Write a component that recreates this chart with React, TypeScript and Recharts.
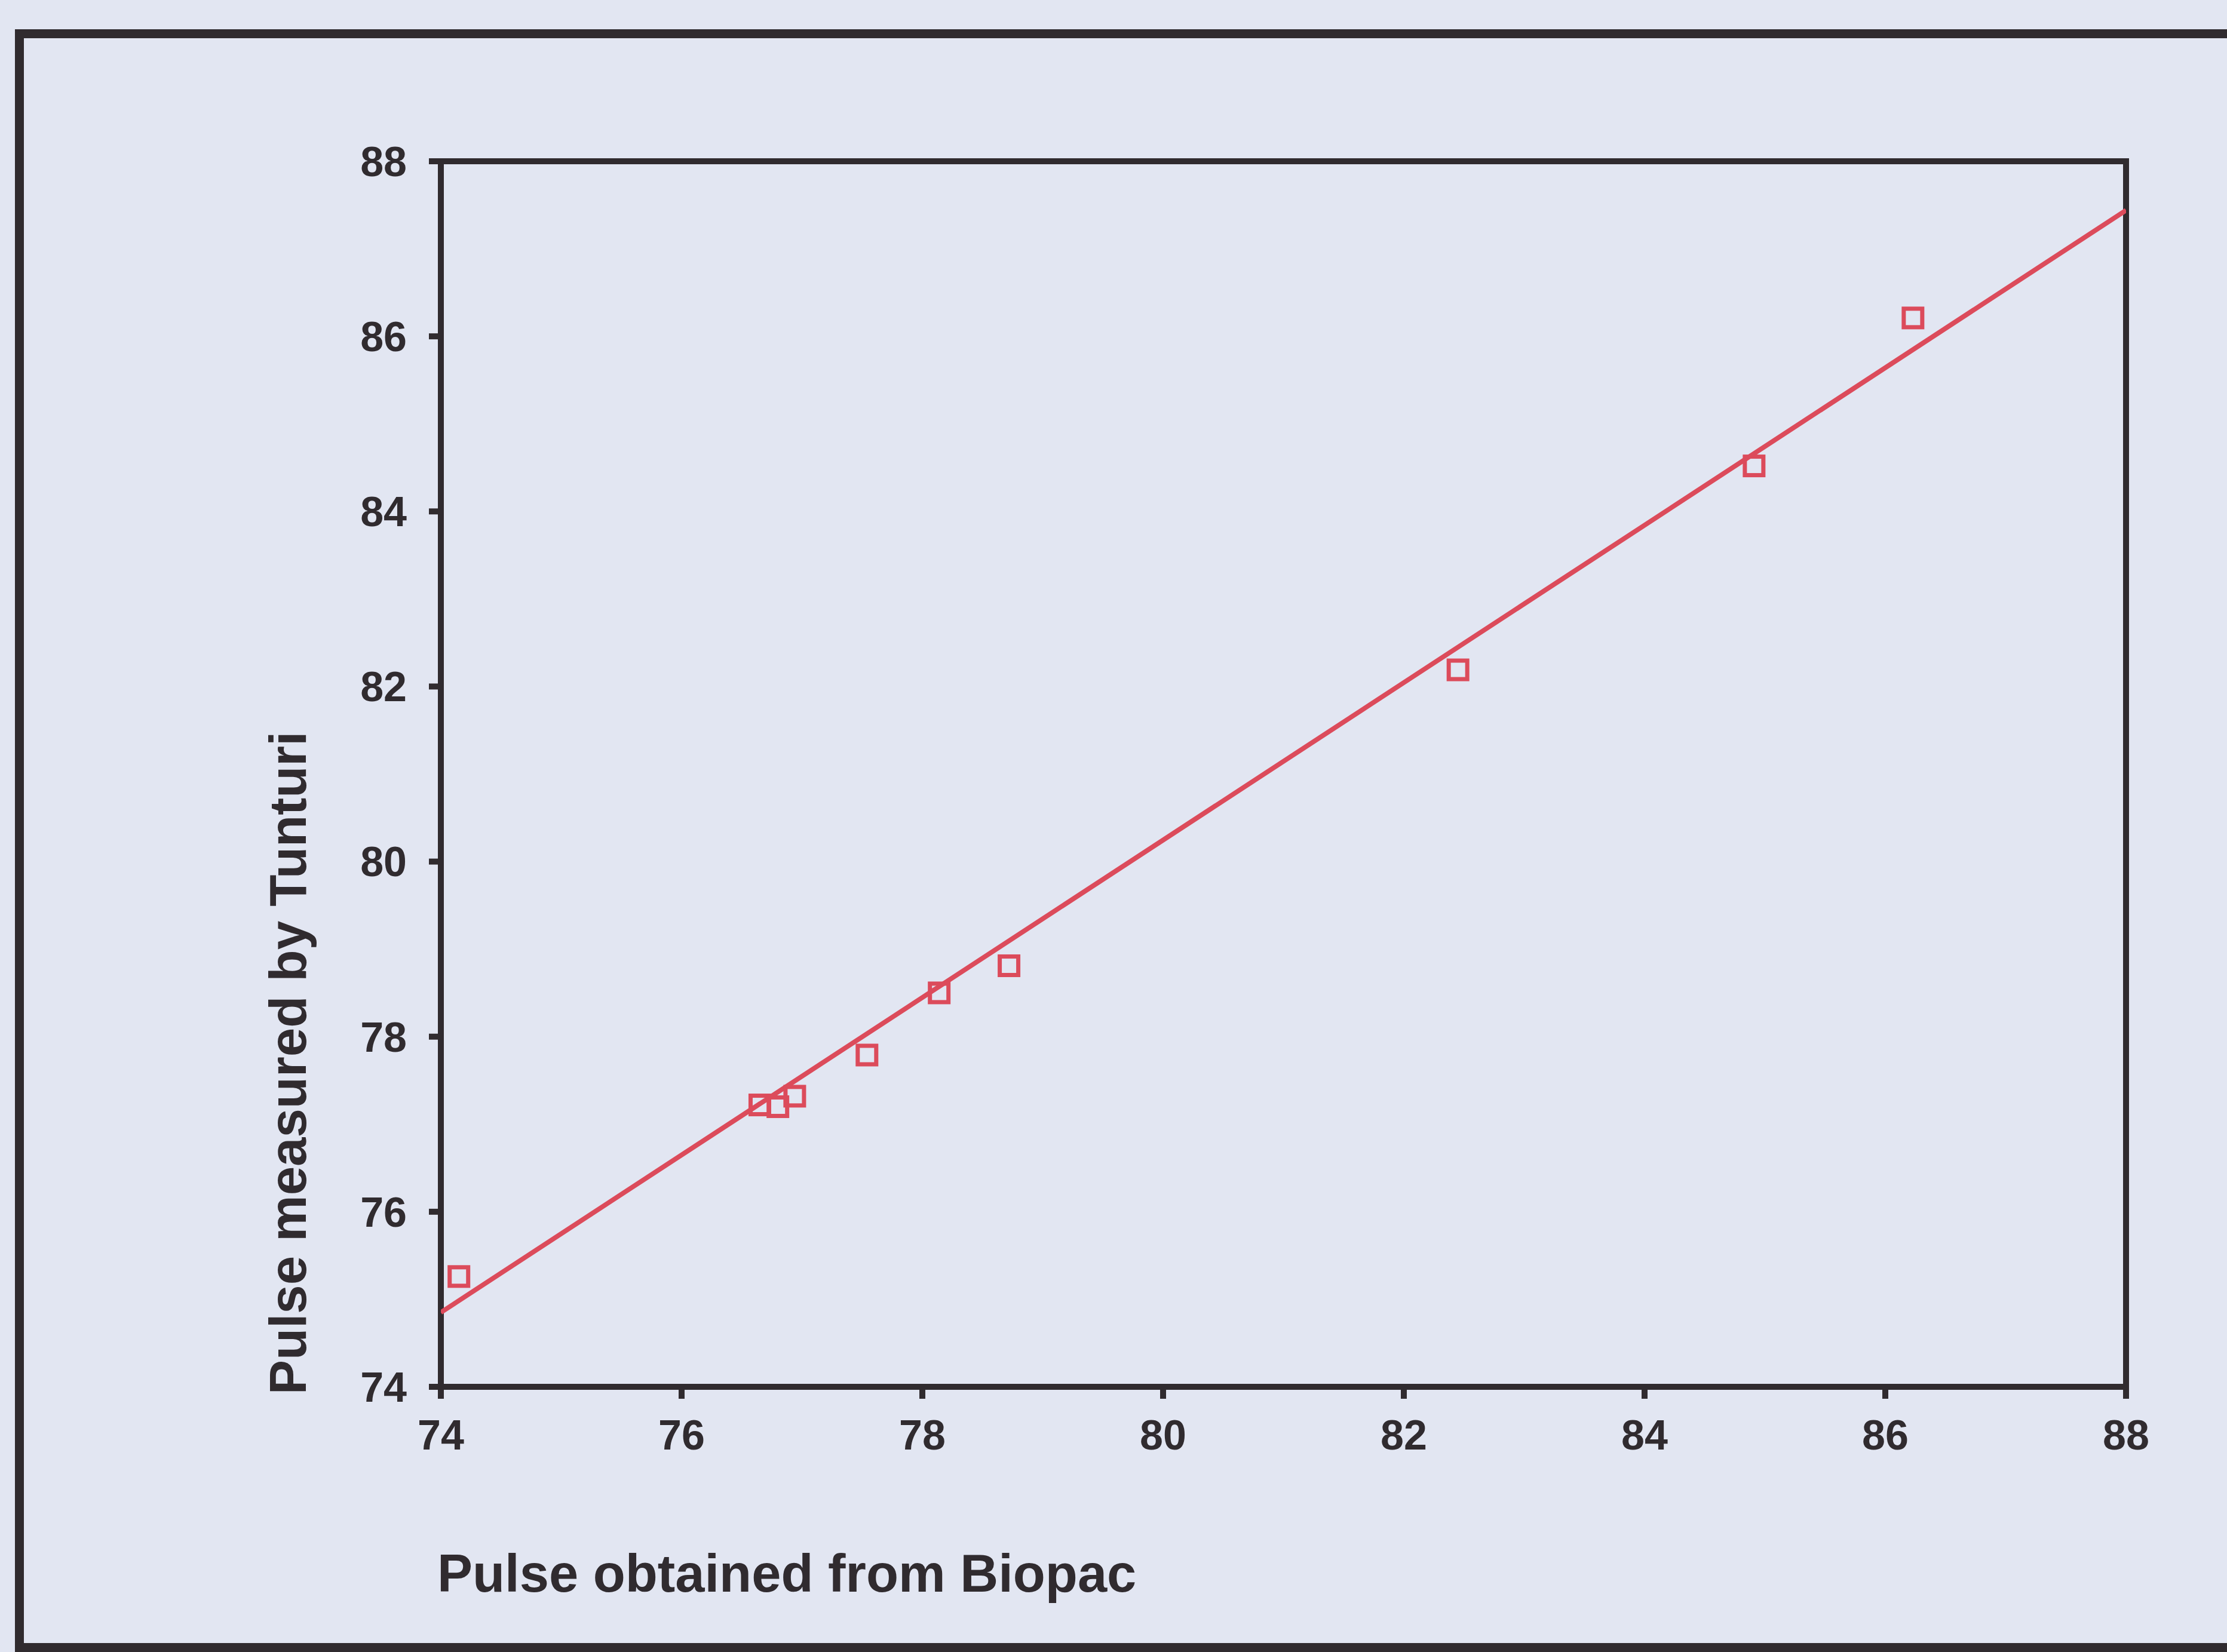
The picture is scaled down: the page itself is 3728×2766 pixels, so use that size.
import { ScatterChart, Scatter, XAxis, YAxis, ReferenceArea } from 'recharts'

// Pulse readings: Biopac (x) vs Tunturi (y)
const biopac = [74.15, 76.65, 76.8, 76.94, 77.54, 78.14, 78.72, 82.45, 84.91, 86.23]
const tunturi = [75.26, 77.22, 77.2, 77.32, 77.79, 78.5, 78.81, 82.19, 84.52, 86.21]

// fitted line end points
const fitX = [74, 88]
const fitY = [74.85, 87.44]

const axisTicks = [74, 76, 78, 80, 82, 84, 86, 88]

const points = biopac.map((x, i) => ({ x, y: tunturi[i] }))
const fitLine = fitX.map((x, i) => ({ x, y: fitY[i] }))

const INK = '#302b2f'
const RED = '#dc4b5b'
const BG = '#e2e6f2'
const FONT = '"Liberation Sans", Arial, sans-serif'

const tickStyle = { fill: INK, fontSize: 70, fontWeight: 700, fontFamily: FONT }

const SquareDot = (props: any) => {
  const { cx, cy } = props
  if (cx == null || cy == null) return <g />
  const s = 31
  return <rect x={cx - s / 2} y={cy - s / 2} width={s} height={s} fill="none" stroke={RED} strokeWidth={7} />
}

const XTitle = (props: any) => {
  const vb = props.viewBox || {}
  return (
    <text x={vb.x - 6} y={2665} fill={INK} fontSize={88.5} fontWeight={700} fontFamily={FONT}>
      Pulse obtained from Biopac
    </text>
  )
}

const YTitle = () => {
  const x = 512
  const y = 2335
  return (
    <text x={x} y={y} transform={`rotate(-90, ${x}, ${y})`} fill={INK} fontSize={87} fontWeight={700} fontFamily={FONT}>
      Pulse measured by Tunturi
    </text>
  )
}

export default function App() {
  return (
    <div style={{ position: 'absolute', left: 0, top: 0, width: 3728, height: 2766, overflow: 'hidden', background: BG }}>
      <div
        style={{
          position: 'absolute',
          left: 25,
          top: 49,
          width: 4000,
          height: 2717,
          border: `15px solid ${INK}`,
          boxSizing: 'border-box',
        }}
      />
      <div style={{ position: 'absolute', left: 0, top: 0 }}>
        <ScatterChart width={3728} height={2766} margin={{ top: 270, right: 169, left: 0, bottom: 0 }}>
          <XAxis
            dataKey="x"
            type="number"
            domain={[74, 88]}
            ticks={axisTicks}
            allowDataOverflow
            height={444}
            tickSize={20}
            tickMargin={35}
            axisLine={{ stroke: INK, strokeWidth: 10 }}
            tickLine={{ stroke: INK, strokeWidth: 10 }}
            tick={tickStyle}
            label={<XTitle />}
          />
          <YAxis
            dataKey="y"
            type="number"
            domain={[74, 88]}
            ticks={axisTicks}
            allowDataOverflow
            width={738}
            tickSize={20}
            tickMargin={37}
            axisLine={{ stroke: INK, strokeWidth: 10 }}
            tickLine={{ stroke: INK, strokeWidth: 10 }}
            tick={tickStyle}
            label={<YTitle />}
          />
          <ReferenceArea x1={74} x2={88} y1={74} y2={88} fill="none" fillOpacity={0} stroke={INK} strokeWidth={10} ifOverflow="visible" />
          <Scatter
            data={fitLine}
            line={{ stroke: RED, strokeWidth: 8 }}
            lineType="joint"
            shape={() => <g />}
            isAnimationActive={false}
          />
          <Scatter data={points} shape={SquareDot} isAnimationActive={false} />
        </ScatterChart>
      </div>
    </div>
  )
}
